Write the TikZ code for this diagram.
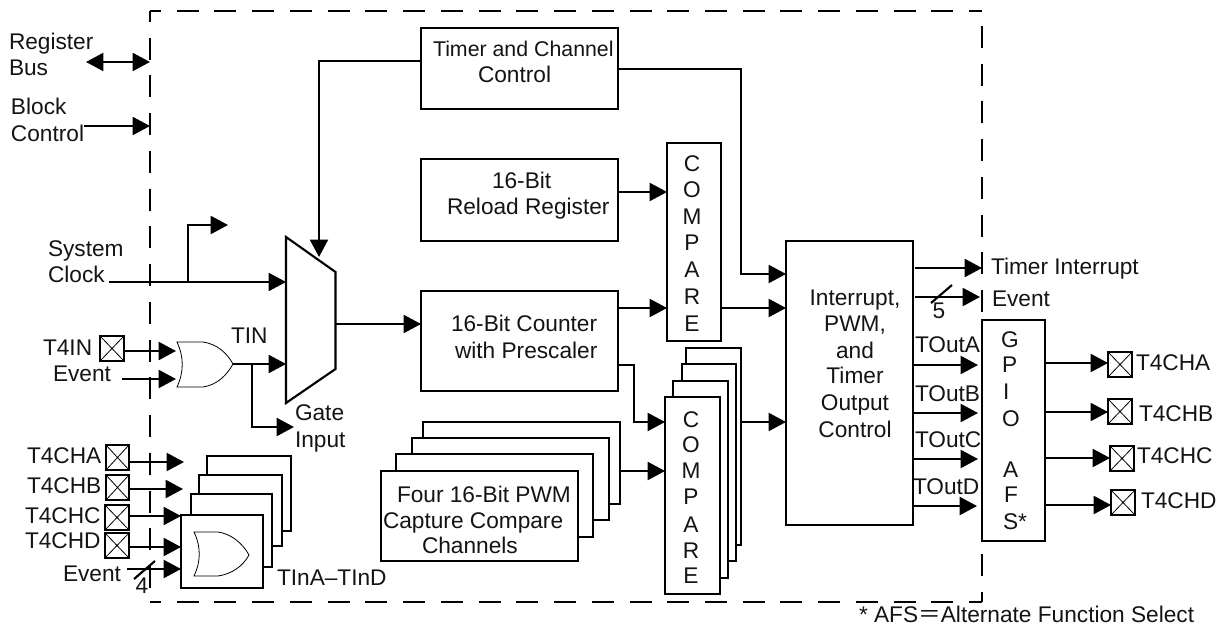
\documentclass[tikz,border=0pt]{standalone}
\usepackage{fontspec}
\setmainfont{Liberation Sans}
\newfontfamily\cjkfont{Noto Sans CJK SC}
\usetikzlibrary{arrows.meta}
\tikzset{
  ln/.style={line width=1.6pt},
  arr/.style={ln,-{Triangle[length=13pt,width=13.5pt]}},
  darr/.style={ln,{Triangle[length=13pt,width=13.5pt]}-{Triangle[length=13pt,width=13.5pt]}},
  txt/.style={inner sep=0pt,outer sep=0pt,font=\fontsize{17pt}{20pt}\selectfont,text=black!92},
  thinln/.style={line width=0.6pt,fill=white},
  dbox/.style={line width=1.6pt,dash pattern=on 16.5pt off 11.8pt},
  blk/.style={draw,ln,fill=white,inner sep=0pt,outer sep=0pt},
  pad/.style={blk,path picture={
    \draw[line width=0.6pt] (path picture bounding box.north west)--(path picture bounding box.south east)
      (path picture bounding box.north east)--(path picture bounding box.south west);}}
}
\newcommand\pbox[6][blk]{%
  \pgfmathsetmacro\cxx{(#3+#5)/2}\pgfmathsetmacro\cyy{(#4+#6)/2}%
  \pgfmathsetmacro\www{(#5-#3)*0.75}\pgfmathsetmacro\hhh{(#6-#4)*0.75}%
  \node[#1,minimum width=\www pt,minimum height=\hhh pt] (#2) at (\cxx,\cyy) {};}
\newcommand\lbl[4]{\node[txt,anchor=base west] (#1) at (#2,#3) {#4};}
\newcommand\clbl[4]{\node[txt,anchor=base] (#1) at (#2,#3) {#4};}
\begin{document}
\begin{tikzpicture}[x=0.75pt,y=-0.75pt]
\useasboundingbox (0,0) rectangle (1220,627);
% dashed outline
\draw[dbox,dash phase=8.25pt] (150,11) -- (982,11);
\draw[dbox,dash phase=8.25pt] (150,11) -- (150,602);
\draw[dbox,dash phase=8.25pt] (150,602) -- (982,602);
\draw[dbox,dash phase=9pt] (982,602) -- (982,11);
% blocks
\pbox{timer}{421}{28}{618}{109}
\pbox{reload}{421}{159}{618}{241}
\pbox{counter}{421}{291}{618}{391}
\pbox{cmpa}{667}{143}{721}{341}
\pbox{cmpd}{686}{348}{741}{545}
\pbox{cmpc}{682}{364}{736}{561}
\pbox{cmpb}{673}{381}{728}{578}
\pbox{cmpf}{665}{397}{720}{594}
\pbox{pwmd}{423}{422}{620}{504}
\pbox{pwmc}{412}{438}{609}{520}
\pbox{pwmb}{396}{454}{593}{537}
\pbox{pwmf}{381}{471}{578}{561}
\pbox{intr}{786}{241}{913}{525}
\pbox{gpio}{982}{320}{1045}{541}
\pbox{tind}{207}{456}{291}{531}
\pbox{tinc}{199}{475}{282}{546}
\pbox{tinb}{191}{494}{272}{567}
\pbox{tinf}{181}{515}{263}{588}
% pads
\pbox[pad]{padin}{100}{336}{124}{361}
\pbox[pad]{padla}{106}{445}{129}{470}
\pbox[pad]{padlb}{106}{475}{129}{500}
\pbox[pad]{padlc}{105}{505}{129}{530}
\pbox[pad]{padld}{105}{533}{129}{558}
\pbox[pad]{padra}{1108}{352}{1132}{377}
\pbox[pad]{padrb}{1108}{399}{1132}{424}
\pbox[pad]{padrc}{1110}{446}{1134}{471}
\pbox[pad]{padrd}{1111}{490}{1135}{515}
% mux
\coordinate (muxa) at (286,237);
\coordinate (muxb) at (335.5,272);
\coordinate (muxc) at (335.5,369);
\coordinate (muxd) at (286,403);
\draw[ln,fill=white,line join=miter] (muxa) -- (muxb) -- (muxc) -- (muxd) -- cycle;
% OR gates
\coordinate (ora) at (233,364);
\draw[thinln] (177,342) -- (203,342) .. controls (217,344) and (227,353) .. (ora)
  .. controls (227,375) and (217,385) .. (203,387) -- (177,387)
  .. controls (184,372) and (184,357) .. (177,342) -- cycle;
\draw[thinln] (194,532) -- (218,532) .. controls (232,534) and (243,544) .. (249,555)
  .. controls (243,566) and (232,574) .. (218,576) -- (194,576)
  .. controls (201,562) and (201,546) .. (194,532) -- cycle;
% free ends
\coordinate (regl) at (86,62);
\coordinate (regr) at (150,62);
\coordinate (blkl) at (84,126);
\coordinate (blkr) at (150,126);
\coordinate (clkl) at (109,282);
\coordinate (clkb) at (188,282);
\coordinate (clkt) at (228,225);
\coordinate (evl) at (122,379);
\coordinate (orin1) at (176,351);
\coordinate (orin2) at (176,379);
\coordinate (tinb1) at (252,364);
\coordinate (gate) at (294,427);
\coordinate (tipa) at (184,462);
\coordinate (tipb) at (183,489);
\coordinate (ev4) at (127,569);
\coordinate (muxtop) at (319,257);
% left side connectors
\draw[darr] (regl) -- (regr);
\draw[arr] (blkl) -- (blkr);
\draw[arr] (clkl) -- (muxa |- clkl);
\draw[arr] (clkb) |- (clkt);
\draw[arr] (padin.east |- orin1) -- (orin1);
\draw[arr] (evl) -- (orin2);
\draw[arr] (ora) -- (muxa |- ora);
\draw[arr] (tinb1) |- (gate);
\draw[arr] (padla.east |- tipa) -- (tipa);
\draw[arr] (padlb.east |- tipb) -- (tipb);
\draw[arr] (padlc.east |- 0,516) -- (tinf.west |- 0,516);
\draw[arr] (padld.east |- 0,547) -- (tinf.west |- 0,547);
\draw[arr] (ev4) -- (tinf.west |- ev4);
\draw[ln] (134,579) -- (155,561);
% top / middle connectors
\draw[arr] (timer.west |- 0,61) -| (muxtop);
\draw[arr] (timer.east |- 0,69) -- (741,69) |- (intr.west |- 0,274);
\draw[arr] (reload.east |- 0,192) -- (cmpa.west |- 0,192);
\draw[arr] (muxb |- 0,324) -- (counter.west |- 0,324);
\draw[arr] (counter.east |- 0,308) -- (cmpa.west |- 0,308);
\draw[arr] (cmpa.east |- 0,308) -- (intr.west |- 0,308);
\draw[arr] (counter.east |- 0,365) -- (634,365) |- (cmpf.west |- 0,422);
\draw[arr] (pwmd.east |- 0,471) -- (cmpf.west |- 0,471);
\draw[arr] (cmpd.east |- 0,422) -- (intr.west |- 0,422);
% right connectors
\draw[arr] (915,268) -- (982,268);
\draw[arr] (915,297) -- (980,297);
\draw[ln] (931,303) -- (952,285);
\draw[arr] (intr.east |- 0,365) -- (978,365);
\draw[arr] (intr.east |- 0,413) -- (978,413);
\draw[arr] (intr.east |- 0,459) -- (978,459);
\draw[arr] (intr.east |- 0,506) -- (977,506);
\draw[arr] (gpio.east |- 0,363) -- (padra.west |- 0,363);
\draw[arr] (gpio.east |- 0,412) -- (padrb.west |- 0,412);
\draw[arr] (gpio.east |- 0,458) -- (padrc.west |- 0,458);
\draw[arr] (gpio.east |- 0,505) -- (padrd.west |- 0,505);
% labels
\lbl{t1}{9}{50}{Register}
\lbl{t2}{9}{76}{Bus}
\lbl{t3}{11}{115}{Block}
\lbl{t4}{11}{142}{Control}
\lbl{t5}{48}{257}{System}
\lbl{t6}{48}{282}{Clock}
\lbl{t7}{43}{355}{T4IN}
\lbl{t8}{53}{381}{Event}
\lbl{t9}{231}{343}{TIN}
\lbl{t10}{295}{420}{Gate}
\lbl{t11}{295}{447}{Input}
\lbl{t12}{27}{463}{T4CHA}
\lbl{t13}{27}{493}{T4CHB}
\lbl{t14}{25}{523}{T4CHC}
\lbl{t15}{25}{548}{T4CHD}
\lbl{t16}{63}{581}{Event}
\clbl{t17}{142}{593}{4}
\lbl{t18}{277}{585}{TInA–TInD}
\lbl{t19}{433}{57}{\fontsize{16pt}{20pt}\selectfont Timer and Channel}
\lbl{t20}{478}{83}{Control}
\lbl{t21}{492}{189}{16-Bit}
\lbl{t22}{447}{215}{Reload Register}
\lbl{t23}{451}{331}{16-Bit Counter}
\lbl{t24}{455}{358}{with Prescaler}
\lbl{t25}{397}{502}{Four 16-Bit PWM}
\lbl{t26}{383}{528}{Capture Compare}
\lbl{t27}{422}{553}{Channels}
\clbl{ca1}{692}{172}{C}
\clbl{ca2}{692}{198}{O}
\clbl{ca3}{692}{225}{M}
\clbl{ca4}{692}{251}{P}
\clbl{ca5}{692}{277}{A}
\clbl{ca6}{692}{304}{R}
\clbl{ca7}{692}{331}{E}
\clbl{cb1}{691}{427}{C}
\clbl{cb2}{691}{452}{O}
\clbl{cb3}{691}{478}{M}
\clbl{cb4}{691}{504}{P}
\clbl{cb5}{691}{532}{A}
\clbl{cb6}{691}{558}{R}
\clbl{cb7}{691}{583}{E}
\clbl{i1}{855}{305}{Interrupt,}
\clbl{i2}{855}{331}{PWM,}
\clbl{i3}{855}{358}{and}
\clbl{i4}{855}{383}{Timer}
\clbl{i5}{855}{410}{Output}
\clbl{i6}{855}{437}{Control}
\lbl{g1}{1001}{347}{G}
\lbl{g2}{1002}{372}{P}
\lbl{g3}{1003}{399}{I}
\lbl{g4}{1002}{426}{O}
\lbl{g5}{1003}{477}{A}
\lbl{g6}{1004}{502}{F}
\lbl{g7}{1003}{529}{S*}
\lbl{r1}{991}{275}{Timer Interrupt}
\lbl{r2}{992}{306}{Event}
\clbl{r3}{939}{318}{5}
\lbl{o1}{915}{352}{TOutA}
\lbl{o2}{915}{401}{TOutB}
\lbl{o3}{915}{447}{TOutC}
\lbl{o4}{913}{494}{TOutD}
\lbl{p1}{1136}{370}{T4CHA}
\lbl{p2}{1139}{421}{T4CHB}
\lbl{p3}{1137}{463}{T4CHC}
\lbl{p4}{1141}{508}{T4CHD}
\lbl{foot}{859}{622}{* AFS{\cjkfont ＝}Alternate Function Select}
\end{tikzpicture}
\end{document}
